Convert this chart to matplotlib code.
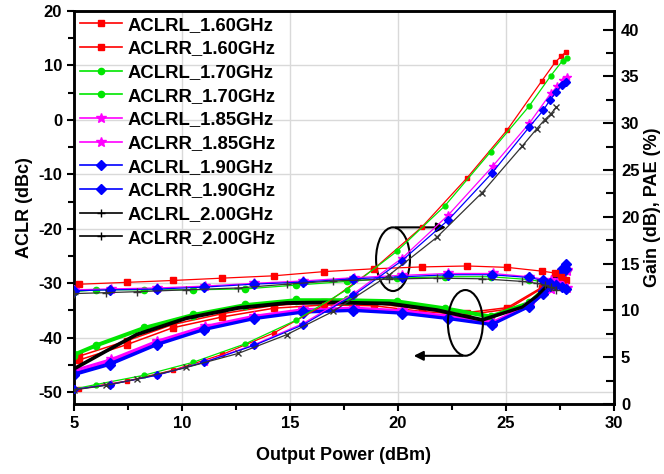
import matplotlib
matplotlib.use("Agg")
import matplotlib.pyplot as plt
from matplotlib.patches import Ellipse
from matplotlib.lines import Line2D

plt.rcParams['font.family'] = ['Liberation Sans', 'DejaVu Sans']
plt.rcParams['font.weight'] = 'bold'
plt.rcParams['axes.unicode_minus'] = False

freqs = ['1.60GHz', '1.70GHz', '1.85GHz', '1.90GHz', '2.00GHz']

# 1.60 GHz
pout_160 = [5.25, 7.44, 9.57, 11.87, 14.26, 16.59, 18.89, 21.10, 23.21, 25.06, 26.65, 27.27, 27.55, 27.76]
gain_160 = [12.8, 13.0, 13.2, 13.45, 13.7, 14.15, 14.45, 14.65, 14.75, 14.6, 14.2, 14.0, 13.6, 13.25]
pae_160 = [1.65, 2.45, 3.6, 5.3, 7.6, 10.6, 14.45, 18.9, 24.2, 29.3, 34.5, 36.5, 37.15, 37.6]
aclrl_160 = [-44.1, -41.3, -38.2, -36.2, -34.6, -34.0, -34.15, -35.2, -35.8, -34.8, -31.0, -29.2, -28.3, -27.6]
aclrr_160 = [-43.4, -40.6, -37.6, -35.6, -34.1, -33.5, -33.7, -34.8, -35.4, -34.5, -30.8, -29.0, -28.1, -27.4]

# 1.70 GHz
pout_170 = [5.0, 6.02, 8.24, 10.52, 12.92, 15.26, 17.62, 19.94, 22.18, 24.29, 26.06, 27.08, 27.62, 27.84]
gain_170 = [12.0, 12.2, 12.2, 12.2, 12.3, 12.7, 13.1, 13.45, 13.6, 13.6, 13.3, 12.9, 12.5, 12.3]
pae_170 = [1.6, 2.08, 3.07, 4.46, 6.42, 8.93, 12.2, 16.3, 21.2, 26.95, 31.8, 35.1, 36.7, 37.0]
aclrl_170 = [-43.0, -41.3, -38.1, -35.7, -33.9, -33.0, -33.0, -33.2, -34.5, -36.0, -33.5, -29.8, -28.0, -27.5]
aclrr_170 = [-43.3, -41.6, -38.4, -36.0, -34.2, -33.3, -33.3, -33.5, -34.8, -36.3, -33.8, -30.0, -28.3, -27.8]

# 1.85 GHz
pout_185 = [5.0, 6.7, 8.85, 11.05, 13.35, 15.6, 17.95, 20.2, 22.33, 24.38, 26.08, 27.07, 27.38, 27.66, 27.81]
gain_185 = [12.2, 12.3, 12.4, 12.6, 12.9, 13.15, 13.5, 13.75, 13.95, 13.95, 13.6, 13.2, 12.9, 12.6, 12.4]
pae_185 = [1.55, 2.1, 3.1, 4.5, 6.35, 8.6, 11.8, 15.6, 20.2, 25.4, 30.0, 33.2, 33.95, 34.6, 34.95]
aclrl_185 = [-46.0, -44.0, -40.6, -37.9, -36.0, -34.8, -34.5, -35.0, -36.0, -37.1, -34.0, -31.0, -29.5, -28.2, -27.6]
aclrr_185 = [-46.4, -44.3, -40.9, -38.2, -36.2, -35.0, -34.7, -35.2, -36.2, -37.3, -34.1, -31.1, -29.6, -28.3, -27.7]

# 1.90 GHz
pout_190 = [5.0, 6.67, 8.83, 11.03, 13.35, 15.62, 17.93, 20.17, 22.33, 24.34, 26.06, 26.73, 27.04, 27.31, 27.57, 27.76]
gain_190 = [12.1, 12.2, 12.28, 12.49, 12.81, 13.03, 13.38, 13.59, 13.81, 13.81, 13.52, 13.2, 12.95, 12.7, 12.45, 12.28]
pae_190 = [1.55, 2.08, 3.07, 4.46, 6.27, 8.48, 11.6, 15.3, 19.67, 24.65, 29.55, 31.4, 32.5, 33.3, 34.06, 34.4]
aclrl_190 = [-46.6, -44.7, -41.15, -38.4, -36.4, -35.2, -34.9, -35.4, -36.4, -37.5, -34.26, -31.4, -29.9, -28.6, -27.45, -26.4]
aclrr_190 = [-46.9, -45.0, -41.4, -38.6, -36.6, -35.4, -35.1, -35.6, -36.6, -37.7, -34.4, -32.0, -30.6, -29.4, -28.2, -27.4]

# 2.00 GHz
pout_200 = [5.0, 6.5, 7.9, 10.2, 12.6, 14.84, 17.0, 19.6, 21.79, 23.9, 25.75, 26.42, 26.8, 27.08, 27.31]
gain_200 = [11.8, 11.9, 12.0, 12.2, 12.4, 12.8, 13.15, 13.35, 13.45, 13.38, 13.1, 12.9, 12.7, 12.45, 12.2]
pae_200 = [1.5, 2.0, 2.65, 3.9, 5.4, 7.4, 9.9, 13.8, 17.8, 22.6, 27.56, 29.4, 30.4, 31.0, 31.7]
aclrl_200 = [-45.6, -42.3, -39.3, -36.3, -34.4, -33.5, -33.4, -33.6, -34.8, -36.6, -34.3, -32.3, -30.8, -29.6, -28.7]
aclrr_200 = [-45.9, -42.6, -39.6, -36.6, -34.7, -33.8, -33.7, -33.9, -35.1, -36.9, -34.5, -32.5, -31.0, -29.8, -28.9]

pouts = [pout_160, pout_170, pout_185, pout_190, pout_200]
gains = [gain_160, gain_170, gain_185, gain_190, gain_200]
paes = [pae_160, pae_170, pae_185, pae_190, pae_200]
aclrls = [aclrl_160, aclrl_170, aclrl_185, aclrl_190, aclrl_200]
aclrrs = [aclrr_160, aclrr_170, aclrr_185, aclrr_190, aclrr_200]

colors = ['#ff0000', '#00e600', '#ff00ff', '#0000ff', '#000000']
markers = ['s', 'o', '*', 'D', '+']
msizes = [4, 4.5, 7, 5.5, 6]
aclr_lw = [1.1, 1.8, 1.6, 1.6, 1.6]
aclr_markers = ['s', 'o', '*', 'D', 'None']

fig = plt.figure(figsize=(6.64, 4.74), dpi=100)
ax = fig.add_axes([0.1114, 0.1477, 0.8133, 0.8291])
ax2 = ax.twinx()

for i in range(5):
    c = colors[i]
    ax.plot(pouts[i], aclrls[i], color=c, lw=aclr_lw[i], marker=aclr_markers[i], ms=msizes[i], zorder=3)
    ax.plot(pouts[i], aclrrs[i], color=c, lw=aclr_lw[i], marker=aclr_markers[i], ms=msizes[i], zorder=3)
    pae_marker = 'x' if markers[i] == '+' else markers[i]
    lc = '#333333' if c == '#000000' else c
    ax2.plot(pouts[i], gains[i], color=lc, lw=0.9, marker=markers[i], ms=msizes[i], zorder=3)
    ax2.plot(pouts[i], paes[i], color=lc, lw=0.9, marker=pae_marker, ms=msizes[i] - 1, zorder=3)

ax.set_xlim(5, 30)
ax.set_ylim(-52.2, 20)
ax2.set_ylim(0, 42)

ax.set_xticks([5, 10, 15, 20, 25, 30])
ax.set_xticks([7.5, 12.5, 17.5, 22.5, 27.5], minor=True)
ax.set_yticks([-50, -40, -30, -20, -10, 0, 10, 20])
ax.set_yticks([-45, -35, -25, -15, -5, 5, 15], minor=True)
ax2.set_yticks([0, 5, 10, 15, 20, 25, 30, 35, 40])
ax2.set_yticks([2.5, 7.5, 12.5, 17.5, 22.5, 27.5, 32.5, 37.5], minor=True)

ax.grid(True, which='major', color='#d9d9d9', lw=1.0)
ax.set_axisbelow(True)

ax.tick_params(axis='both', which='both', direction='out', labelsize=12, width=1.5)
ax.tick_params(axis='both', which='major', length=5)
ax.tick_params(axis='both', which='minor', length=4)
ax2.tick_params(axis='y', which='both', direction='in', labelsize=12, width=1.5, pad=5)
ax2.tick_params(axis='y', which='major', length=8)
ax2.tick_params(axis='y', which='minor', length=6)
for a in (ax, ax2):
    for sp in a.spines.values():
        sp.set_linewidth(1.8)

ax.set_xlabel('Output Power (dBm)', fontsize=13, fontweight='bold', labelpad=12)
ax.set_ylabel('ACLR (dBc)', fontsize=13, fontweight='bold', labelpad=4)
ax2.set_ylabel('Gain (dB), PAE (%)', fontsize=13, fontweight='bold', labelpad=3)

# Ellipses and arrows marking which axis each group belongs to
ax.add_patch(Ellipse((19.77, -25.6), 1.57, 11.7, fill=False, ec='black', lw=1.5, zorder=4))
ax.annotate('', xy=(22.35, -19.75), xytext=(19.77, -19.75),
            arrowprops=dict(arrowstyle='-|>', color='black', lw=1.5, mutation_scale=14), zorder=4)
ax.add_patch(Ellipse((23.12, -37.3), 1.62, 12.07, fill=False, ec='black', lw=1.5, zorder=4))
ax.annotate('', xy=(20.6, -43.35), xytext=(23.12, -43.35),
            arrowprops=dict(arrowstyle='-|>', color='black', lw=1.5, mutation_scale=14), zorder=4)

handles = []
labels = []
for i in range(5):
    for side in ['L', 'R']:
        handles.append(Line2D([], [], color=colors[i], lw=1.2, marker=markers[i], ms=msizes[i]))
        labels.append('ACLR' + side + '_' + freqs[i])
leg = ax2.legend(handles, labels, loc='upper left', bbox_to_anchor=(0, 1), frameon=False,
                 borderpad=0.32, borderaxespad=0.0, handlelength=2.3, handletextpad=0.3,
                 labelspacing=0.36, prop={'size': 13.3, 'weight': 'bold'})

fig.savefig('out.png', dpi=100)
